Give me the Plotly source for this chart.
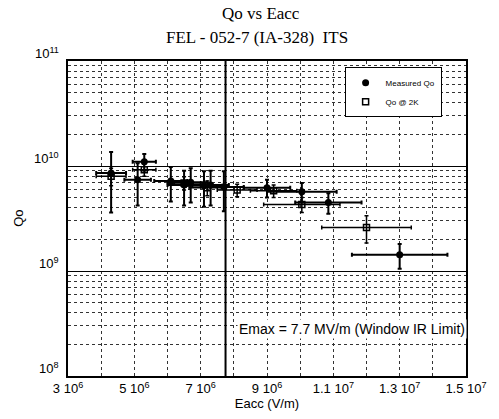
import plotly.graph_objects as go
import math

# Measured Qo
meas_E = [4.3e6, 5.3e6, 5.1e6, 6.1e6, 6.5e6, 6.7e6, 7.1e6, 7.3e6, 7.7e6, 9.0e6, 10.05e6, 10.85e6, 13.0e6]
meas_Q = [8.6e9, 1.1e10, 7.4e9, 7.2e9, 6.6e9, 7.0e9, 6.5e9, 6.6e9, 6.3e9, 6.2e9, 5.7e9, 4.5e9, 1.43e9]
meas_Eerr = [0.45e6, 0.35e6, 0.4e6, 0.5e6, 0.5e6, 0.5e6, 0.55e6, 0.55e6, 0.6e6, 0.7e6, 1.05e6, 1.0e6, 1.44e6]
meas_Qerr = [5.0e9, 2.0e9, 3.2e9, 2.6e9, 2.4e9, 2.5e9, 2.4e9, 2.4e9, 2.6e9, 1.2e9, 1.2e9, 1.0e9, 0.38e9]

# Qo @ 2K
k2_E = [4.3e6, 5.3e6, 6.5e6, 7.2e6, 8.1e6, 9.2e6, 10.05e6, 12.0e6]
k2_Q = [8.0e9, 9.2e9, 6.9e9, 6.2e9, 5.9e9, 5.8e9, 4.3e9, 2.6e9]
k2_Eerr = [0.45e6, 0.35e6, 0.5e6, 0.55e6, 0.6e6, 0.7e6, 1.15e6, 1.35e6]
k2_Qerr = [1.5e9, 1.2e9, 1.0e9, 1.0e9, 0.8e9, 0.8e9, 0.7e9, 0.75e9]

emax = 7.75e6

x_tickvals = [3e6, 5e6, 7e6, 9e6, 11e6, 13e6, 15e6]
x_ticktext = ["3 10<sup>6</sup>", "5 10<sup>6</sup>", "7 10<sup>6</sup>", "9 10<sup>6</sup>",
              "1.1 10<sup>7</sup>", "1.3 10<sup>7</sup>", "1.5 10<sup>7</sup>"]
y_tickvals = [1e8, 1e9, 1e10, 1e11]
y_ticktext = ["10<sup>8</sup>", "10<sup>9</sup>", "10<sup>10</sup>", "10<sup>11</sup>"]

SANS = "Liberation Sans, Arial"
SERIF = "Liberation Serif, Times New Roman"

fig = go.Figure()
fig.add_trace(go.Scatter(
    x=meas_E, y=meas_Q, mode="markers", name="Measured Qo",
    marker=dict(symbol="circle", size=7, color="black"),
    error_x=dict(type="data", array=meas_Eerr, color="black", thickness=2, width=2),
    error_y=dict(type="data", array=meas_Qerr, color="black", thickness=2, width=2),
))
fig.add_trace(go.Scatter(
    x=k2_E, y=k2_Q, mode="markers", name="Qo @ 2K",
    marker=dict(symbol="square-open", size=6, color="black", line=dict(width=1.5)),
    error_x=dict(type="data", array=k2_Eerr, color="black", thickness=1.5, width=2),
    error_y=dict(type="data", array=k2_Qerr, color="black", thickness=1.5, width=2),
))

fig.add_shape(type="line", x0=emax, x1=emax, y0=0, y1=1, xref="x", yref="paper",
              line=dict(color="black", width=2))
fig.add_annotation(x=1, xref="paper", xanchor="right", y=8.45, yref="y", xshift=1,
                   text="Emax = 7.7 MV/m (Window IR Limit)", showarrow=False,
                   font=dict(family=SANS, size=14, color="black"),
                   bgcolor="white", borderpad=1)

# title lines
fig.add_annotation(x=0.485, y=1.15, xref="paper", yref="paper", text="Qo vs Eacc",
                   showarrow=False, xanchor="center", yanchor="middle",
                   font=dict(family=SERIF, size=17, color="black"))
fig.add_annotation(x=0.475, y=1.075, xref="paper", yref="paper", text="FEL - 052-7 (IA-328)  ITS",
                   showarrow=False, xanchor="center", yanchor="middle",
                   font=dict(family=SERIF, size=17, color="black"))
# y tick labels (sitting slightly above their grid lines)
for v, t in zip(y_tickvals, y_ticktext):
    fig.add_annotation(x=0, xref="paper", y=math.log10(v), yref="y", text=t, showarrow=False,
                       xanchor="right", yanchor="middle", xshift=-7, yshift=8,
                       font=dict(family=SANS, size=13, color="black"))
# y axis title
fig.add_annotation(x=-0.125, xref="paper", y=0.5, yref="paper", text="Qo", showarrow=False,
                   textangle=-90, xanchor="center", yanchor="middle",
                   font=dict(family=SANS, size=13, color="black"))

grid_col = "#333333"
fig.update_layout(
    width=499, height=419,
    margin=dict(l=68, r=23, t=61, b=38),
    paper_bgcolor="white", plot_bgcolor="white",
    showlegend=True,
    legend=dict(x=0.695, y=0.98, xanchor="left", yanchor="top",
                bgcolor="white", bordercolor="black", borderwidth=1,
                font=dict(family=SANS, size=8, color="black"),
                tracegroupgap=0, itemwidth=30),
    font=dict(family=SANS, color="black"),
)
fig.update_xaxes(
    range=[3e6, 15e6], tickvals=x_tickvals, ticktext=x_ticktext,
    showline=True, linecolor="black", linewidth=1.5, mirror=True,
    showgrid=True, gridcolor=grid_col, griddash="dot", gridwidth=1,
    minor=dict(dtick=1e6, showgrid=True, gridcolor=grid_col, griddash="dot", gridwidth=1),
    ticks="", tickfont=dict(size=13, family=SANS, color="black"),
    title=dict(text="Eacc (V/m)", font=dict(size=13), standoff=2),
    zeroline=False,
)
fig.update_yaxes(
    type="log", range=[8, 11], tickvals=y_tickvals, showticklabels=False,
    showline=True, linecolor="black", linewidth=1.5, mirror=True,
    showgrid=True, gridcolor="black", gridwidth=1,
    minor=dict(dtick="D1", showgrid=True, gridcolor=grid_col, griddash="dot", gridwidth=1, ticks=""),
    ticks="",
    zeroline=False,
)
fig.write_html("out.html")
